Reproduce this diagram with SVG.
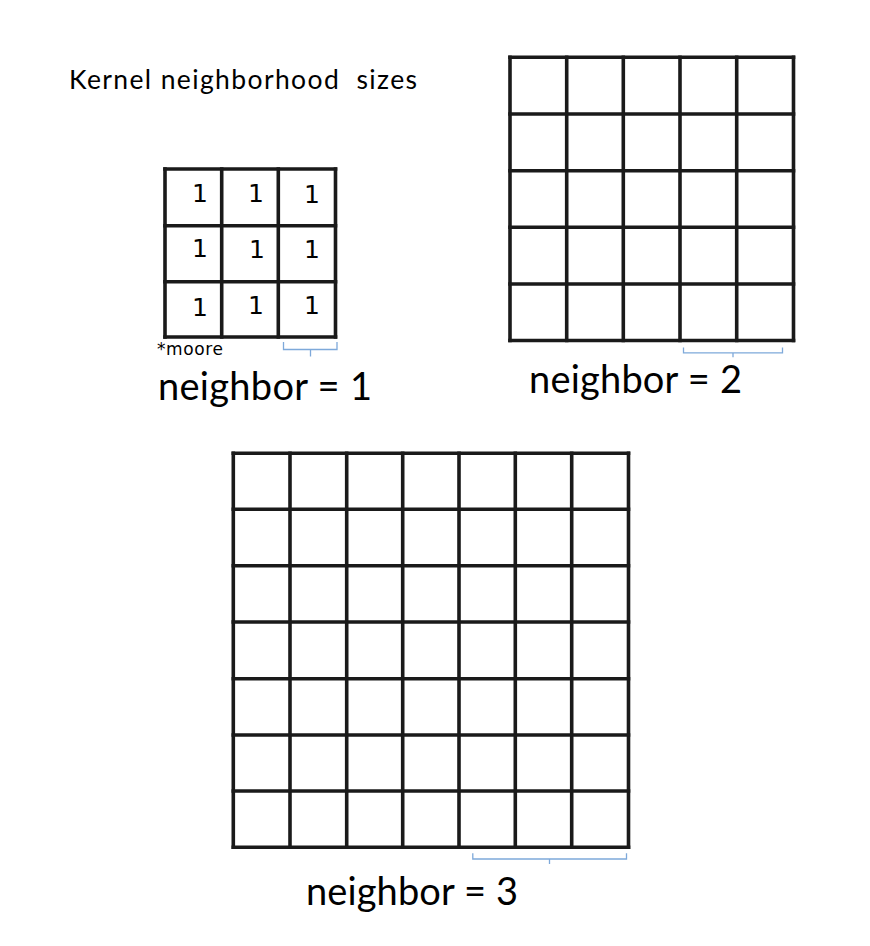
<svg xmlns="http://www.w3.org/2000/svg" width="870" height="946" viewBox="0 0 870 946">
<style>
.g line{stroke:#1a1a1a;stroke-width:3.6;stroke-linecap:square}
.lbl{font-family:Lato,"Open Sans","Liberation Sans",sans-serif;fill:#000;white-space:pre}
.big{font-size:38px}
.title{font-size:26.5px}
.one{font-family:"DejaVu Sans",sans-serif;font-size:25px;text-anchor:middle;fill:#000}
.note{font-family:"DejaVu Sans",sans-serif;font-size:17px;fill:#000}
.br{fill:none;stroke:#7ea9da;stroke-width:1.3}
</style>
<rect width="870" height="946" fill="#fff"/>
<text class="lbl title" x="69" y="89" textLength="348" lengthAdjust="spacing" xml:space="preserve">Kernel neighborhood  sizes</text>

<g id="grid1" class="g">
<line x1="165" y1="169" x2="165" y2="337"/>
<line x1="221.7" y1="169" x2="221.7" y2="337"/>
<line x1="278.3" y1="169" x2="278.3" y2="337"/>
<line x1="335.5" y1="169" x2="335.5" y2="337"/>
<line x1="165" y1="169" x2="335.5" y2="169"/>
<line x1="165" y1="225.7" x2="335.5" y2="225.7"/>
<line x1="165" y1="281.7" x2="335.5" y2="281.7"/>
<line x1="165" y1="337" x2="335.5" y2="337"/>
<text class="one" x="200" y="202">1</text>
<text class="one" x="256" y="202">1</text>
<text class="one" x="312" y="203">1</text>
<text class="one" x="200" y="257">1</text>
<text class="one" x="257" y="258">1</text>
<text class="one" x="312" y="258">1</text>
<text class="one" x="200" y="316">1</text>
<text class="one" x="256" y="314">1</text>
<text class="one" x="312" y="314">1</text>
</g>
<text class="note" x="157" y="355" textLength="66" lengthAdjust="spacing">*moore</text>
<text class="lbl big" x="158" y="400" textLength="214" lengthAdjust="spacing">neighbor = 1</text>

<g id="grid2" class="g">
<line x1="510" y1="57.3" x2="510" y2="340.5"/>
<line x1="566.7" y1="57.3" x2="566.7" y2="340.5"/>
<line x1="623.3" y1="57.3" x2="623.3" y2="340.5"/>
<line x1="680" y1="57.3" x2="680" y2="340.5"/>
<line x1="736.7" y1="57.3" x2="736.7" y2="340.5"/>
<line x1="793.5" y1="57.3" x2="793.5" y2="340.5"/>
<line x1="510" y1="57.3" x2="793.5" y2="57.3"/>
<line x1="510" y1="114" x2="793.5" y2="114"/>
<line x1="510" y1="170.7" x2="793.5" y2="170.7"/>
<line x1="510" y1="227.3" x2="793.5" y2="227.3"/>
<line x1="510" y1="284" x2="793.5" y2="284"/>
<line x1="510" y1="340.5" x2="793.5" y2="340.5"/>
</g>
<text class="lbl big" x="529" y="393" textLength="213" lengthAdjust="spacing">neighbor = 2</text>

<g id="grid3" class="g">
<line x1="233.3" y1="453.3" x2="233.3" y2="847.3"/>
<line x1="290" y1="453.3" x2="290" y2="847.3"/>
<line x1="346.7" y1="453.3" x2="346.7" y2="847.3"/>
<line x1="402.7" y1="453.3" x2="402.7" y2="847.3"/>
<line x1="459" y1="453.3" x2="459" y2="847.3"/>
<line x1="515.3" y1="453.3" x2="515.3" y2="847.3"/>
<line x1="571.7" y1="453.3" x2="571.7" y2="847.3"/>
<line x1="628.5" y1="453.3" x2="628.5" y2="847.3"/>
<line x1="233.3" y1="453.3" x2="628.5" y2="453.3"/>
<line x1="233.3" y1="509.3" x2="628.5" y2="509.3"/>
<line x1="233.3" y1="565.7" x2="628.5" y2="565.7"/>
<line x1="233.3" y1="622" x2="628.5" y2="622"/>
<line x1="233.3" y1="678.7" x2="628.5" y2="678.7"/>
<line x1="233.3" y1="735" x2="628.5" y2="735"/>
<line x1="233.3" y1="791" x2="628.5" y2="791"/>
<line x1="233.3" y1="847.3" x2="628.5" y2="847.3"/>
</g>
<text class="lbl big" x="306" y="905" textLength="212" lengthAdjust="spacing">neighbor = 3</text>

<g id="connectors">
<path class="br" d="M283.5,342 V349.5 H337 V342 M310.5,349.5 V356.5"/>
<path class="br" d="M683.5,347.5 V352.8 H782.5 V347.5 M733,352.8 V357.3"/>
<path class="br" d="M472.8,853.3 V859 H626.5 V853.3 M549.5,859 V864"/>
</g>
</svg>
